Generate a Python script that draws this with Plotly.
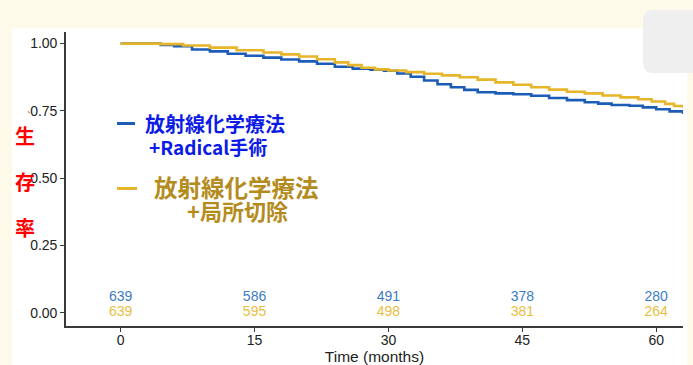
import plotly.graph_objects as go

# ---- data ----
months_radical = [0, 4.5, 6, 8, 10, 12, 14, 16, 18, 20, 22, 24, 26, 28, 29.5, 31, 32.5, 34,
                  35.5, 37, 38.5, 40, 42, 44, 46, 48, 50, 52, 53.5, 55, 57, 58.5, 60, 61.5, 63]
surv_radical = [1.0, 0.995, 0.99, 0.978, 0.971, 0.962, 0.955, 0.948, 0.941, 0.934, 0.925, 0.914,
                0.907, 0.903, 0.899, 0.889, 0.877, 0.863, 0.849, 0.838, 0.828, 0.819, 0.815,
                0.812, 0.806, 0.798, 0.79, 0.782, 0.777, 0.772, 0.769, 0.763, 0.756, 0.748, 0.738]

months_local = [0, 4.5, 7, 10, 13, 16, 18, 20, 22, 24, 25.5, 27, 28.5, 30, 32, 34, 36, 38, 40,
                42, 44, 46, 48, 50, 52, 54, 56, 58, 59.5, 61, 62, 63]
surv_local = [1.0, 0.998, 0.993, 0.985, 0.975, 0.967, 0.96, 0.952, 0.942, 0.93, 0.92, 0.91,
              0.904, 0.9, 0.894, 0.888, 0.882, 0.875, 0.866, 0.856, 0.847, 0.838, 0.829, 0.821,
              0.815, 0.807, 0.8, 0.793, 0.785, 0.776, 0.768, 0.762]

risk_times = [0, 15, 30, 45, 60]
risk_radical = [639, 586, 491, 378, 280]
risk_local = [639, 595, 498, 381, 264]
risk_row_y = [0.058, 0.0]

x_ticks = [0, 15, 30, 45, 60]
y_ticks = [0, 0.25, 0.5, 0.75, 1.0]
y_ticklabels = ["0.00", "0.25", "0.50", "0.75", "1.00"]

legend_radical = ["放射線化学療法", "+Radical手術"]
legend_local = ["放射線化学療法", "+局所切除"]
ylabel_chars = ["生", "存", "率"]
x_title = "Time (months)"

BLUE = "#1B5DB6"
GOLD = "#E7B52A"
BLUE_TXT = "#3D7BC4"
GOLD_TXT = "#E8BE40"
CREAM = "#FEFAEA"

W, H = 693, 365
L, R, T, B = 66, 10, 32, 39
PW, PH = W - L - R, H - T - B


def px(x):
    return (x - L) / PW


def py(y):
    return (H - B - y) / PH


fig = go.Figure()
fig.add_trace(go.Scatter(x=months_radical, y=surv_radical, mode="lines",
                         line=dict(color=BLUE, width=2.6, shape="hv"), hoverinfo="skip"))
fig.add_trace(go.Scatter(x=months_local, y=surv_local, mode="lines",
                         line=dict(color=GOLD, width=2.6, shape="hv"), hoverinfo="skip"))

fig.add_trace(go.Scatter(x=risk_times, y=[risk_row_y[0]] * len(risk_times), mode="text",
                         text=[str(v) for v in risk_radical],
                         textfont=dict(color=BLUE_TXT, size=14, family="Liberation Sans, Arial"),
                         textposition="middle center", hoverinfo="skip"))
fig.add_trace(go.Scatter(x=risk_times, y=[risk_row_y[1]] * len(risk_times), mode="text",
                         text=[str(v) for v in risk_local],
                         textfont=dict(color=GOLD_TXT, size=14, family="Liberation Sans, Arial"),
                         textposition="middle center", hoverinfo="skip"))

shapes = [
    # white panel
    dict(type="rect", xref="paper", yref="paper", x0=px(12), x1=px(687), y0=py(366), y1=py(28),
         fillcolor="white", line=dict(width=0), layer="below"),
    # gray rounded box
    dict(type="path", xref="paper", yref="paper", layer="below",
         path=(f"M {px(653)} {py(10)} L {px(700)} {py(10)} L {px(700)} {py(73)} "
               f"L {px(653)} {py(73)} Q {px(643)} {py(73)} {px(643)} {py(63)} "
               f"L {px(643)} {py(20)} Q {px(643)} {py(10)} {px(653)} {py(10)} Z"),
         fillcolor="#EFEFEF", line=dict(width=0)),
    # legend keys
    dict(type="line", xref="paper", yref="paper", x0=px(117), x1=px(135), y0=py(123.5), y1=py(123.5),
         line=dict(color=BLUE, width=3)),
    dict(type="line", xref="paper", yref="paper", x0=px(117), x1=px(137), y0=py(188.5), y1=py(188.5),
         line=dict(color=GOLD, width=3)),
]

CJK = "Noto Sans CJK JP"
annotations = [
    dict(text=f"<b>{legend_radical[0]}</b>", x=px(143), y=py(123), xanchor="left", yanchor="middle",
         font=dict(size=20, color="#0D1BE6", family=CJK)),
    dict(text=f"<b>{legend_radical[1]}</b>", x=px(147), y=py(146), xanchor="left", yanchor="middle",
         font=dict(size=19, color="#0D1BE6", family=CJK)),
    dict(text=f"<b>{legend_local[0]}</b>", x=px(152), y=py(187), xanchor="left", yanchor="middle",
         font=dict(size=23.5, color="#B48C1E", family=CJK)),
    dict(text=f"<b>{legend_local[1]}</b>", x=px(185), y=py(210), xanchor="left", yanchor="middle",
         font=dict(size=22, color="#B48C1E", family=CJK)),
    dict(text="、", x=px(31), y=py(110), xanchor="center", yanchor="middle",
         font=dict(size=9, color="#777777", family=CJK)),
]
for ch, yy in zip(ylabel_chars, [135, 181, 227]):
    annotations.append(dict(text=f"<b>{ch}</b>", x=px(25), y=py(yy), xanchor="center", yanchor="middle",
                            font=dict(size=20, color="#FF0000", family=CJK)))
for a in annotations:
    a.update(xref="paper", yref="paper", showarrow=False)

fig.update_layout(
    width=W, height=H, margin=dict(l=L, r=R, t=T, b=B, autoexpand=False),
    paper_bgcolor=CREAM, plot_bgcolor="white", showlegend=False,
    shapes=shapes, annotations=annotations,
    xaxis=dict(range=[-6.12, 63.0], tickvals=x_ticks, showgrid=False, zeroline=False,
               automargin=False, ticklabelstandoff=-4,
               showline=True, linecolor="#3A3A3A", linewidth=1.6, ticks="outside", ticklen=4,
               tickcolor="#3A3A3A", tickwidth=1.2,
               tickfont=dict(size=14, color="#222222", family="Liberation Sans, Arial"),
               title=dict(text=x_title, standoff=1,
                          font=dict(size=15.5, color="#222222", family="Liberation Sans, Arial"))),
    yaxis=dict(range=[-0.049, 1.043], tickvals=y_ticks, ticktext=y_ticklabels, showgrid=False,
               automargin=False,
               zeroline=False, showline=True, linecolor="#3A3A3A", linewidth=1.6, ticks="outside",
               ticklen=4, tickcolor="#3A3A3A", tickwidth=1.2,
               tickfont=dict(size=14, color="#222222", family="Liberation Sans, Arial")),
)

fig.write_html(
    "out.html",
    config={"displayModeBar": False},
    post_script="document.body.style.margin='0';document.body.style.overflow='hidden';"
                f"document.body.style.background='{CREAM}';",
)
